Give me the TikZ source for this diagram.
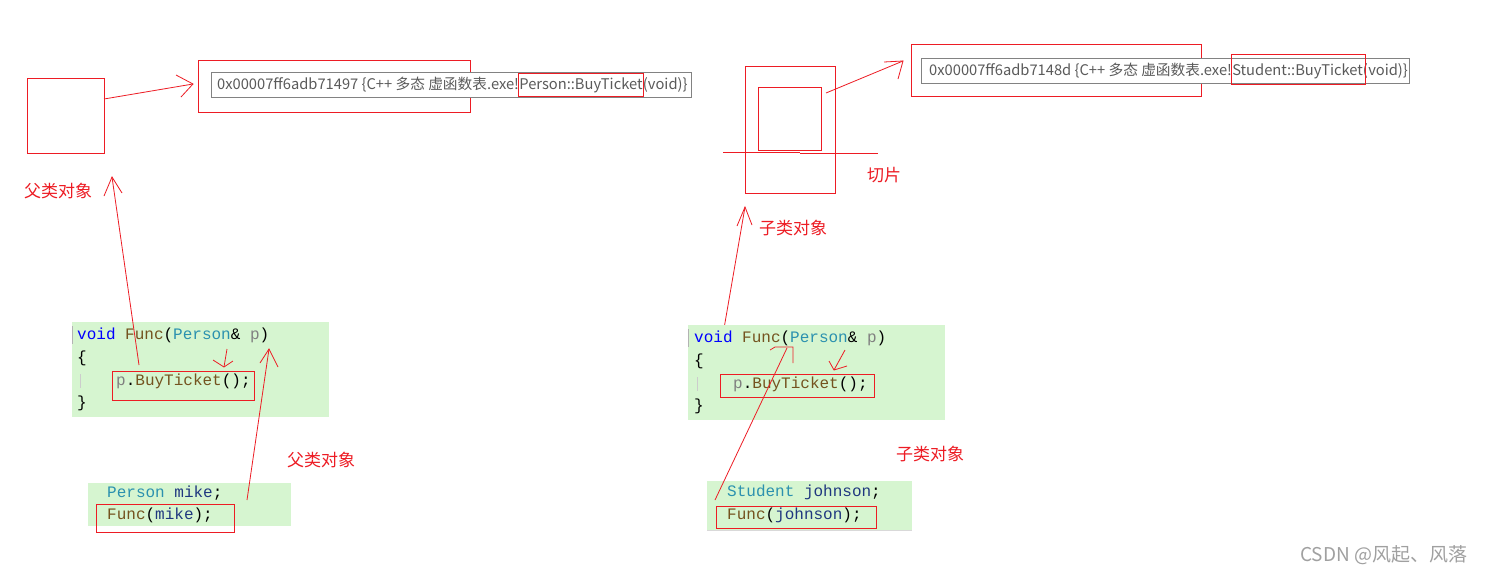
\documentclass[tikz,border=0pt]{standalone}
\usepackage{fontspec}
\setmainfont{Noto Sans CJK SC}
\setmonofont{Liberation Mono}
\newfontfamily\cjk{Noto Sans CJK SC}
\usetikzlibrary{fit}
\definecolor{rd}{RGB}{237,28,36}
\definecolor{codebg}{RGB}{214,245,208}
\definecolor{kw}{RGB}{0,0,255}
\definecolor{fn}{RGB}{116,83,31}
\definecolor{ty}{RGB}{43,145,175}
\definecolor{pm}{RGB}{128,128,128}
\definecolor{lv}{RGB}{31,55,127}
\definecolor{addrgray}{RGB}{90,90,90}
\definecolor{boxgray}{RGB}{130,130,130}
\definecolor{wm}{RGB}{160,160,160}
\tikzset{
  redbox/.style={draw=rd, line width=1pt, inner sep=0pt, anchor=north west},
  hand/.style={draw=rd, line width=0.8pt},
  codebox/.style={fill=codebg, draw=none},
  code/.style={font=\fontsize{16}{16}\ttfamily, inner sep=0pt, text height=11pt, text depth=3pt},
  addrtxt/.style={font=\fontsize{14.7}{14.7}\cjk, text=addrgray, inner sep=0pt, text height=11pt, text depth=3pt},
  redlabel/.style={font=\fontsize{17}{17}\cjk, text=rd, inner sep=0pt, anchor=west},
}
\begin{document}
\begin{tikzpicture}[x=1pt,y=-1pt]
\useasboundingbox[fill=white] (0,0) rectangle (1487,574);

% ---------- left: parent object ----------
\node[redbox, minimum width=77pt, minimum height=75pt] (pobj) at (26.5,77.5) {};
\node[redbox, minimum width=272pt, minimum height=52pt] (vt1) at (197.5,59.5) {};
\draw[draw=boxgray, line width=1pt, fill=white] (211.5,72.5) rectangle (691.5,97.5);
\node[addrtxt, anchor=west] (a1) at (217,85.5) {0x00007ff6adb71497 \{C++ 多态 虚函数表.exe!};
\node[addrtxt, anchor=base west] (a1b) at (a1.base east) {Person::BuyTicket};
\node[addrtxt, anchor=base west] (a1c) at (a1b.base east) {(void)\}};
\node[draw=rd, line width=1pt, inner sep=0pt, fit={([xshift=-1pt]a1b.west |- 0,73.5) ([xshift=0.5pt]a1b.east |- 0,96.5)}] (hl1) {};
% arrow object -> vtable
\coordinate (t1) at (193,84);
\draw[hand] (104,99) -- (t1);
\draw[hand] (176,75) -- (t1) -- (181,97);

\node[redlabel] (lab1) at (24,191) {父类对象};

% code box left
\fill[codebox] (72,322) rectangle (329,417);
\draw[pm!60, line width=1pt] (72.5,326) -- (72.5,344);
\draw[pm!40, line width=1pt] (80.5,374) -- (80.5,388);
\node[code, anchor=west] (c1) at (77,335) {\textcolor{kw}{void} \textcolor{fn}{Func}(\textcolor{ty}{Person}\& \textcolor{pm}{p})};
\node[code, anchor=west] (c2) at (77,358) {\{};
\node[code, anchor=west] (c3) at (116,381) {\textcolor{pm}{p}.\textcolor{fn}{BuyTicket}();};
\node[code, anchor=west] (c4) at (77,403) {\}};
\node[redbox, minimum width=142pt, minimum height=29pt] (rb1) at (111.5,370.5) {};

\fill[codebox] (88,483) rectangle (291,526);
\node[code, anchor=west] (m1) at (107,493) {\textcolor{ty}{Person} \textcolor{lv}{mike};};
\node[code, anchor=west] (m2) at (107,515) {\textcolor{fn}{Func}(\textcolor{lv}{mike});};
\node[redbox, minimum width=138pt, minimum height=28pt] (rb2) at (95.5,503.5) {};

\node[redlabel] (lab2) at (287,460) {父类对象};

% hand arrows left
\coordinate (u1) at (112,177);
\coordinate (s1) at (139,365);
\draw[hand] (s1) -- (u1);
\draw[hand] (104,196) -- (u1) -- (122,193);
\coordinate (d1) at (224,367);
\draw[hand] (227,349) -- (d1);
\draw[hand] (213,360) -- (d1) -- (233,361);
\coordinate (u2) at (269,349);
\coordinate (s2) at (247,500);
\draw[hand] (s2) -- (u2);
\draw[hand] (260,363) -- (u2) -- (278,367);

% ---------- right: child object ----------
\node[redbox, minimum width=90pt, minimum height=127pt] (cobj) at (744.5,65.5) {};
\node[redbox, minimum width=63pt, minimum height=63pt] (cpart) at (757.5,86.5) {};
\draw[hand, line width=1pt] (723,152.5) -- (800,152.5);
\draw[hand, line width=1pt] (800,153.5) -- (878,153.5);
\node[redlabel] (lab3) at (867,175) {切片};

\node[redbox, minimum width=290pt, minimum height=52pt] (vt2) at (910.5,43.5) {};
\draw[draw=boxgray, line width=1pt, fill=white] (921.5,58.5) rectangle (1409.5,83.5);
\node[addrtxt, anchor=west] (b1) at (929,71.5) {0x00007ff6adb7148d \{C++ 多态 虚函数表.exe!};
\node[addrtxt, anchor=base west] (b1b) at (b1.base east) {Student::BuyTicket(};
\node[addrtxt, anchor=base west] (b1c) at (b1b.base east) {void)\}};
\node[draw=rd, line width=1pt, inner sep=0pt, fit={([xshift=-1pt]b1b.west |- 0,54.5) ([xshift=-2.5pt]b1b.east |- 0,84.5)}] (hl2) {};

\coordinate (t2) at (903,61);
\draw[hand] (826,93) -- (t2);
\draw[hand] (884,62) -- (t2) -- (898,79);

\coordinate (u3) at (745,207);
\coordinate (s3) at (717,369);
\draw[hand] (s3) -- (u3);
\draw[hand] (737,226) -- (u3) -- (752,225);
\node[redlabel] (lab4) at (759,228) {子类对象};

\fill[codebox] (688,325) rectangle (945,420);
\draw[pm!60, line width=1pt] (688.5,329) -- (688.5,347);
\draw[pm!40, line width=1pt] (697.5,377) -- (697.5,391);
\node[code, anchor=west] (e1) at (694,338) {\textcolor{kw}{void} \textcolor{fn}{Func}(\textcolor{ty}{Person}\& \textcolor{pm}{p})};
\node[code, anchor=west] (e2) at (694,361) {\{};
\node[code, anchor=west] (e3) at (733,384) {\textcolor{pm}{p}.\textcolor{fn}{BuyTicket}();};
\node[code, anchor=west] (e4) at (694,406) {\}};
\node[redbox, minimum width=154pt, minimum height=23pt] (rb3) at (719.5,373.5) {};

\fill[codebox] (707,481) rectangle (912,530);
\draw[gray!30, line width=1pt] (707,530.5) -- (912,530.5);
\node[code, anchor=west] (j1) at (727,492) {\textcolor{ty}{Student} \textcolor{lv}{johnson};};
\node[code, anchor=west] (j2) at (727,515) {\textcolor{fn}{Func}(\textcolor{lv}{johnson});};
\node[redbox, minimum width=160pt, minimum height=22pt] (rb4) at (715.5,505.5) {};

\node[redlabel] (lab5) at (896,454) {子类对象};

% hand arrows right
\coordinate (h1) at (787,348);
\coordinate (s4) at (715,500);
\draw[hand] (s4) -- (h1);
\draw[hand] (770,350) -- (775,347) -- (793,347) -- (793,363);
\coordinate (d2) at (834,370);
\draw[hand] (845,350) -- (d2);
\draw[hand] (829,361) -- (d2) -- (847,366);

% watermark
\node[font=\fontsize{19}{19}\cjk, text=wm, inner sep=0pt, anchor=west] (wmk) at (1300,555) {CSDN @风起、风落};
\end{tikzpicture}
\end{document}
